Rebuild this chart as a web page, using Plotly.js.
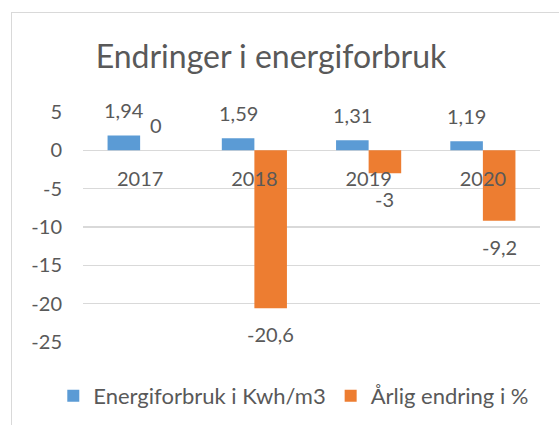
<!DOCTYPE html>
<html>
<head>
<meta charset="utf-8">
<script src="https://cdn.plot.ly/plotly-3.0.1.min.js"></script>
<style>
  html, body { margin: 0; padding: 0; background: #fff; }
  #wrap { position: relative; width: 559px; height: 425px; overflow: hidden; }
  #frame { position: absolute; left: 11px; top: 12px; width: 600px; height: 500px;
           border-left: 1px solid #D9D9D9; border-top: 1px solid #D9D9D9; pointer-events: none; z-index: 5; }
  #chart { position: absolute; left: 0; top: 0; width: 559px; height: 425px; }
</style>
</head>
<body>
<div id="wrap">
  <div id="chart"></div>
  <div id="frame"></div>
</div>
<script>
const categories = ["2017", "2018", "2019", "2020"];
const energiforbruk = [1.94, 1.59, 1.31, 1.19];
const aarligEndring = [0, -20.6, -3, -9.2];
const seriesNames = ["Energiforbruk i Kwh/m3", "Årlig endring i %"];
const yTicks = [5, 0, -5, -10, -15, -20, -25];
const titleText = "Endringer i energiforbruk";

const BLUE = "#5B9BD5", ORANGE = "#ED7D31", TEXT = "#595959", GRID = "#D9D9D9";
const FONT = "Lato, 'Open Sans', sans-serif";
const bargap = 0.43;
const yMin = -25, yMax = 5;

const fmt = v => String(v).replace(".", ",");
const idx = categories.map((_, i) => i);

const traces = [
  { type: "bar", name: seriesNames[0], x: idx, y: energiforbruk,
    marker: { color: BLUE }, hoverinfo: "none" },
  { type: "bar", name: seriesNames[1], x: idx, y: aarligEndring,
    marker: { color: ORANGE }, hoverinfo: "none" }
];

const half = (1 - bargap) / 4;
const annotations = [];
[energiforbruk, aarligEndring].forEach((arr, s) => {
  arr.forEach((v, i) => {
    annotations.push({
      x: i + (s === 0 ? -half : half), y: v, xref: "x", yref: "y",
      text: fmt(v), showarrow: false, xanchor: "center", yanchor: "middle",
      yshift: v >= 0 ? 25 : -26,
      font: { family: FONT, size: 20, color: TEXT }
    });
  });
});

const layout = {
  width: 559, height: 425,
  margin: { l: 83, r: 19, t: 112, b: 83, autoexpand: false },
  paper_bgcolor: "rgba(0,0,0,0)", plot_bgcolor: "rgba(0,0,0,0)",
  title: { text: titleText, x: 271 / 559, xanchor: "center", xref: "container",
           y: 1 - 57 / 425, yanchor: "middle", yref: "container",
           font: { family: FONT, size: 32, color: TEXT } },
  barmode: "group", bargap: bargap, bargroupgap: 0,
  showlegend: true,
  legend: { orientation: "h", x: -0.065, xanchor: "left", xref: "paper",
            y: -0.235, yanchor: "middle", yref: "paper",
            font: { family: FONT, size: 22, color: TEXT }, itemwidth: 30,
            traceorder: "normal" },
  xaxis: {
    tickmode: "array", tickvals: idx, ticktext: categories,
    range: [-0.5, categories.length - 0.5],
    anchor: "free", position: (0 - yMin) / (yMax - yMin),
    showline: false, showgrid: false, zeroline: false,
    ticks: "", ticklabelstandoff: 15,
    tickfont: { family: FONT, size: 20, color: TEXT }
  },
  yaxis: {
    range: [yMin, yMax], tickmode: "array", tickvals: yTicks,
    ticktext: yTicks.map(String),
    showgrid: true, gridcolor: GRID, gridwidth: 1.3,
    zeroline: true, zerolinecolor: GRID, zerolinewidth: 1.3,
    showline: false, ticks: "", ticklabelstandoff: 20,
    tickfont: { family: FONT, size: 20, color: TEXT }
  },
  annotations: annotations
};

Plotly.newPlot("chart", traces, layout, { staticPlot: true, displayModeBar: false });
</script>
</body>
</html>
